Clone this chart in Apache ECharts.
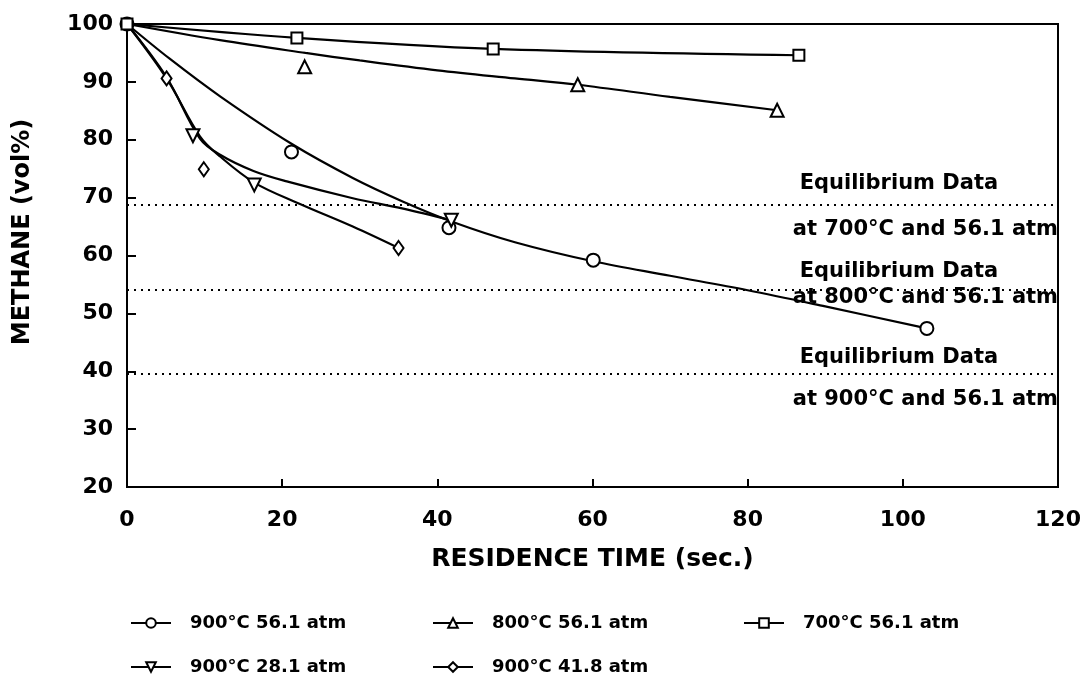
<!DOCTYPE html>
<html><head><meta charset="utf-8">
<script src="https://cdn.jsdelivr.net/npm/echarts@6/dist/echarts.min.js"></script>
<style>html,body{margin:0;padding:0;background:#fff}#c{width:1085px;height:679px}</style>
</head><body><div id="c"></div>
<script>
const FONT = '"DejaVu Sans", sans-serif';
const seriesNames = ['900°C 56.1 atm', '800°C 56.1 atm', '700°C 56.1 atm', '900°C 28.1 atm', '900°C 41.8 atm'];
const seriesSymbols = ['emptyCircle', 'emptyTriangle', 'emptyRect', 'emptyTriangle', 'emptyDiamond'];
const symbolRotations = [0, 0, 0, 180, 0];
const symbolSizes = [13, 13, 11, 13, [10, 14]];

// measured points [residence time (s), methane (vol%)]
const pts900_561 = [[0, 100], [21.2, 77.9], [41.5, 64.8], [60.1, 59.2], [103.1, 47.4]];
const pts800_561 = [[22.9, 92.6], [58.1, 89.5], [83.8, 85.1]];
const pts700_561 = [[0, 100], [21.9, 97.6], [47.2, 95.7], [86.6, 94.6]];
const pts900_281 = [[8.5, 80.7], [16.4, 72.2], [41.8, 66.1]];
const pts900_418 = [[5.1, 90.6], [9.9, 74.9], [35.0, 61.3]];

// curves as drawn in the figure
const fit900_561 = [[0, 100], [5.5, 94.0], [12, 87.5], [21.2, 79.3], [29.1, 73.4], [35.6, 69.3], [42, 65.8], [50, 62.3], [60.1, 59.0], [70, 56.5], [80, 54.0], [90, 51.2], [103.1, 47.4]];
const fit800_561 = [[0, 100], [12, 97.2], [23, 95.0], [30, 93.7], [40, 92.0], [50, 90.6], [58.1, 89.5], [70, 87.4], [83.8, 85.1]];
const fit700_561 = [[0, 100], [21.9, 97.6], [47.2, 95.7], [86.6, 94.6]];
const fit900_281 = [[0, 100], [5.1, 90.8], [9.4, 80.2], [12.0, 77.4], [16.3, 74.6], [20.6, 72.8], [29.1, 69.9], [35.6, 68.1], [41.8, 66.1]];
const fit900_418 = [[0, 100], [5.1, 90.6], [9.4, 80.6], [12.0, 77.1], [16.4, 72.6], [22.3, 68.9], [29.1, 65.0], [35.0, 61.3]];

// equilibrium levels and annotations
const eqLevels = [68.8, 54.0, 39.6];
const eqTitle = 'Equilibrium Data';
const eqSubs = ['at 700°C and 56.1 atm', 'at 800°C and 56.1 atm', 'at 900°C and 56.1 atm'];
const eqTitleY = [72.5, 57.2, 42.3];
const eqSubY = [64.4, 52.8, 35.1];
const eqTitleX = 86.7;
const eqSubX = 120;

const xMin = 0, xMax = 120, xStep = 20;
const yMin = 20, yMax = 100, yStep = 10;

const points = [pts900_561, pts800_561, pts700_561, pts900_281, pts900_418];
const fits = [fit900_561, fit800_561, fit700_561, fit900_281, fit900_418];

const series = [];
fits.forEach((f, i) => {
  series.push({
    type: 'line', name: 'fit' + i, data: f, smooth: 0.35, symbol: 'none',
    lineStyle: { color: '#000', width: 2.2 }, silent: true, z: 2
  });
});
points.forEach((p, i) => {
  series.push({
    type: 'line', name: seriesNames[i], data: p,
    symbol: seriesSymbols[i], symbolSize: symbolSizes[i], symbolRotate: symbolRotations[i],
    showSymbol: true, showAllSymbol: true,
    lineStyle: { opacity: 0, width: 0 },
    itemStyle: { color: '#000', borderColor: '#000', borderWidth: 2 },
    emphasis: { disabled: true }, silent: true, z: 5
  });
});
const labelData = [];
eqLevels.forEach((lv, i) => {
  labelData.push({ value: [eqTitleX, eqTitleY[i]], name: eqTitle, label: { position: 'right' } });
  labelData.push({ value: [eqSubX, eqSubY[i]], name: eqSubs[i], label: { position: 'left' } });
});
series.push({
  type: 'scatter', name: 'eq', data: labelData, symbolSize: 0, silent: true, z: 4,
  itemStyle: { opacity: 1 },
  label: { show: true, distance: 0, formatter: p => p.name, color: '#000', opacity: 1,
           fontFamily: FONT, fontWeight: 'bold', fontSize: 21 },
  markLine: {
    silent: true, symbol: 'none', animation: false,
    lineStyle: { color: '#000', width: 2, type: [2, 5], opacity: 1 },
    label: { show: false },
    data: eqLevels.map(v => ({ yAxis: v }))
  }
});

const legendLeft = [130, 432, 743, 130, 432];
const legendTop = [614, 614, 614, 658, 658];
const legends = seriesNames.map((n, i) => ({
  data: [n], left: legendLeft[i], top: legendTop[i], padding: 0,
  itemWidth: 40, itemHeight: 12, selectedMode: false,
  lineStyle: { color: '#000', width: 2, opacity: 1 },
  itemStyle: { color: '#000', borderColor: '#000', borderWidth: 2, opacity: 1 },
  textStyle: { fontFamily: FONT, fontWeight: 'bold', fontSize: 18, color: '#000', padding: [0, 0, 0, 14] }
}));

const chart = echarts.init(document.getElementById('c'), null, { renderer: 'canvas' });
chart.setOption({
  animation: false,
  backgroundColor: '#fff',
  grid: { left: 127, right: 27, top: 24, bottom: 192, show: true, borderColor: '#000', borderWidth: 2 },
  legend: legends,
  xAxis: {
    type: 'value', min: xMin, max: xMax, interval: xStep,
    name: 'RESIDENCE TIME (sec.)', nameLocation: 'middle', nameGap: 60,
    nameTextStyle: { fontFamily: FONT, fontWeight: 'bold', fontSize: 25, color: '#000' },
    axisLine: { lineStyle: { color: '#000', width: 2 } },
    axisTick: { inside: true, length: 8, lineStyle: { color: '#000', width: 2 } },
    axisLabel: { margin: 22, fontFamily: FONT, fontWeight: 'bold', fontSize: 22, color: '#000' },
    splitLine: { show: false }
  },
  yAxis: {
    type: 'value', min: yMin, max: yMax, interval: yStep,
    name: 'METHANE (vol%)', nameLocation: 'middle', nameGap: 92,
    nameTextStyle: { fontFamily: FONT, fontWeight: 'bold', fontSize: 24, color: '#000', padding: [0, 0, 0, 47] },
    axisLine: { lineStyle: { color: '#000', width: 2 } },
    axisTick: { inside: true, length: 9, lineStyle: { color: '#000', width: 2 } },
    axisLabel: { margin: 14, fontFamily: FONT, fontWeight: 'bold', fontSize: 22, color: '#000' },
    splitLine: { show: false }
  },
  series: series
});
</script>
</body></html>
